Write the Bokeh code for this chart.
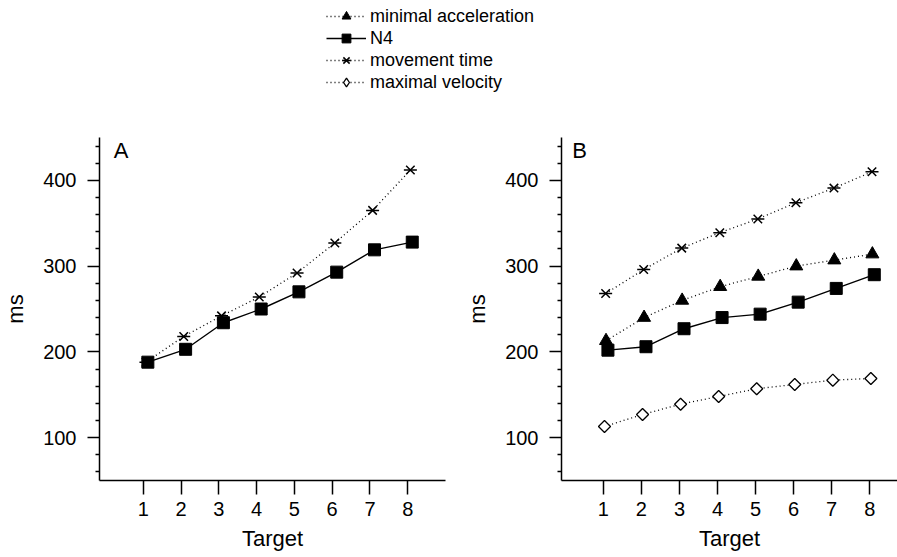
import math
from bokeh.plotting import figure
from bokeh.models import Range1d, FixedTicker, Legend, LegendItem, Label
from bokeh.layouts import column, row
from bokeh.transform import dodge
from bokeh.embed import file_html
from bokeh.resources import INLINE

# ---------------- data ----------------
targets = [1, 2, 3, 4, 5, 6, 7, 8]
a_n4 = [188, 203, 234, 250, 270, 293, 319, 328]
a_movement = [188, 218, 242, 264, 292, 327, 365, 412]
b_min_acc = [213, 240, 260, 276, 288, 300, 307, 314]
b_n4 = [202, 206, 227, 240, 244, 258, 274, 290]
b_movement = [268, 296, 321, 339, 355, 374, 391, 410]
b_max_vel = [113, 127, 139, 148, 157, 162, 167, 169]
y_ticks = [100, 200, 300, 400]
y_minor = [60, 80, 120, 140, 160, 180, 220, 240, 260, 280, 320, 340, 360, 380, 420, 440]
x_label = "Target"
y_label = "ms"
series_names = ["minimal acceleration", "N4", "movement time", "maximal velocity"]

FONT = "Liberation Sans"
DOT = "1 3"


def draw_series(p, xs, ys, kind, dx, legend_style=False):
    src = dict(x=xs, y=ys)
    rs = []
    if kind == "min_acc":
        rs.append(p.line(x=dodge("x", dx), y="y", source=src, line_color="black", line_width=1.3, line_dash=DOT))
        rs.append(p.scatter(x=dodge("x", dx), y="y", source=src, marker="triangle", size=13,
                            fill_color="black", line_color="black"))
    elif kind == "n4":
        rs.append(p.line(x=dodge("x", dx), y="y", source=src, line_color="black", line_width=1.4))
        rs.append(p.scatter(x=dodge("x", dx), y="y", source=src, marker="square", size=12,
                            fill_color="black", line_color="black"))
    elif kind == "movement":
        rs.append(p.line(x=dodge("x", dx), y="y", source=src, line_color="black", line_width=1.3, line_dash=DOT))
        rs.append(p.scatter(x=dodge("x", dx), y="y", source=src, marker="x", size=12,
                            line_color="black", line_width=1.5))
        rs.append(p.scatter(x=dodge("x", dx), y="y", source=src, marker="dash", size=13,
                            line_color="black", line_width=1.5))
    elif kind == "max_vel":
        rs.append(p.line(x=dodge("x", dx), y="y", source=src, line_color="black", line_width=1.3, line_dash=DOT))
        if legend_style:
            rs.append(p.scatter(x=dodge("x", dx), y="y", source=src, marker="diamond", size=12,
                                fill_color="white", line_color="black", line_width=1.3))
        else:
            rs.append(p.scatter(x=dodge("x", dx), y="y", source=src, marker="square", angle=math.pi / 4,
                                size=8.5, fill_color="white", line_color="black", line_width=1.3))
    return rs


def make_panel(width, border_left, border_right, x_range, letter, letter_x):
    p = figure(width=width, height=447, x_range=x_range, y_range=Range1d(50, 450),
               output_backend="svg", toolbar_location=None,
               min_border_left=border_left, min_border_right=border_right,
               min_border_top=27, min_border_bottom=77)
    p.outline_line_color = None
    p.xgrid.visible = False
    p.ygrid.visible = False
    p.background_fill_color = "white"
    p.border_fill_color = "white"
    p.xaxis.ticker = FixedTicker(ticks=targets)
    p.yaxis.ticker = FixedTicker(ticks=y_ticks, minor_ticks=y_minor)
    for ax in p.xaxis + p.yaxis:
        ax.axis_line_color = "black"
        ax.axis_line_width = 1.5
        ax.major_tick_line_color = "black"
        ax.major_tick_line_width = 1.5
        ax.minor_tick_line_color = "black"
        ax.minor_tick_line_width = 1.3
        ax.major_tick_in = 0
        ax.minor_tick_in = 0
        ax.major_label_text_font = FONT
        ax.major_label_text_font_size = "20px"
        ax.major_label_text_color = "black"
        ax.axis_label_text_font = FONT
        ax.axis_label_text_font_size = "22px"
        ax.axis_label_text_font_style = "normal"
        ax.axis_label_text_color = "black"
    p.xaxis.major_tick_out = 14
    p.xaxis.minor_tick_out = 0
    p.xaxis.minor_tick_line_color = None
    p.xaxis.major_label_standoff = 7
    p.xaxis.axis_label = x_label
    p.xaxis.axis_label_standoff = 7
    p.yaxis.major_tick_out = 12
    p.yaxis.minor_tick_out = 4
    p.yaxis.major_label_standoff = 11
    p.yaxis.axis_label = y_label
    p.yaxis.axis_label_standoff = 12
    p.add_layout(Label(x=letter_x, y=450, text=letter, text_baseline="top", text_align="left",
                       text_font=FONT, text_font_size="22px", text_color="black"))
    return p


pA = make_panel(448, 97, 3, Range1d(-0.16, 9.0), "A", 0.22)
draw_series(pA, targets, a_movement, "movement", 0.07)
draw_series(pA, targets, a_n4, "n4", 0.12)

pB = make_panel(449, 113, 0, Range1d(-0.10, 8.73), "B", 0.18)
draw_series(pB, targets, b_max_vel, "max_vel", 0.03)
draw_series(pB, targets, b_movement, "movement", 0.06)
draw_series(pB, targets, b_min_acc, "min_acc", 0.07)
draw_series(pB, targets, b_n4, "n4", 0.12)

# ---------------- legend figure ----------------
# the legend's renderers hold panel B's data, but the ranges keep them out of view
pL = figure(width=897, height=110, x_range=Range1d(1000, 1001), y_range=Range1d(5000, 5001),
            x_axis_type=None, y_axis_type=None, output_backend="svg", toolbar_location=None,
            min_border=0, min_border_left=0, min_border_right=0, min_border_top=0, min_border_bottom=0)
pL.outline_line_color = None
pL.xgrid.visible = False
pL.ygrid.visible = False

leg_items = []
for name, kind, ys in zip(series_names, ["min_acc", "n4", "movement", "max_vel"],
                          [b_min_acc, b_n4, b_movement, b_max_vel]):
    rs = draw_series(pL, targets, ys, kind, 0.0, legend_style=True)
    leg_items.append(LegendItem(label=name, renderers=rs))

legend = Legend(items=leg_items, location=(326, 17), orientation="vertical",
                glyph_width=40, glyph_height=22, label_height=22, spacing=0,
                padding=0, margin=0, label_standoff=4,
                border_line_color=None, background_fill_alpha=0,
                label_text_font=FONT, label_text_font_size="18px", label_text_color="black")
pL.add_layout(legend)

layout = column(pL, row(pA, pB, spacing=0), spacing=0)

with open("out.html", "w") as f:
    f.write(file_html(layout, INLINE))
